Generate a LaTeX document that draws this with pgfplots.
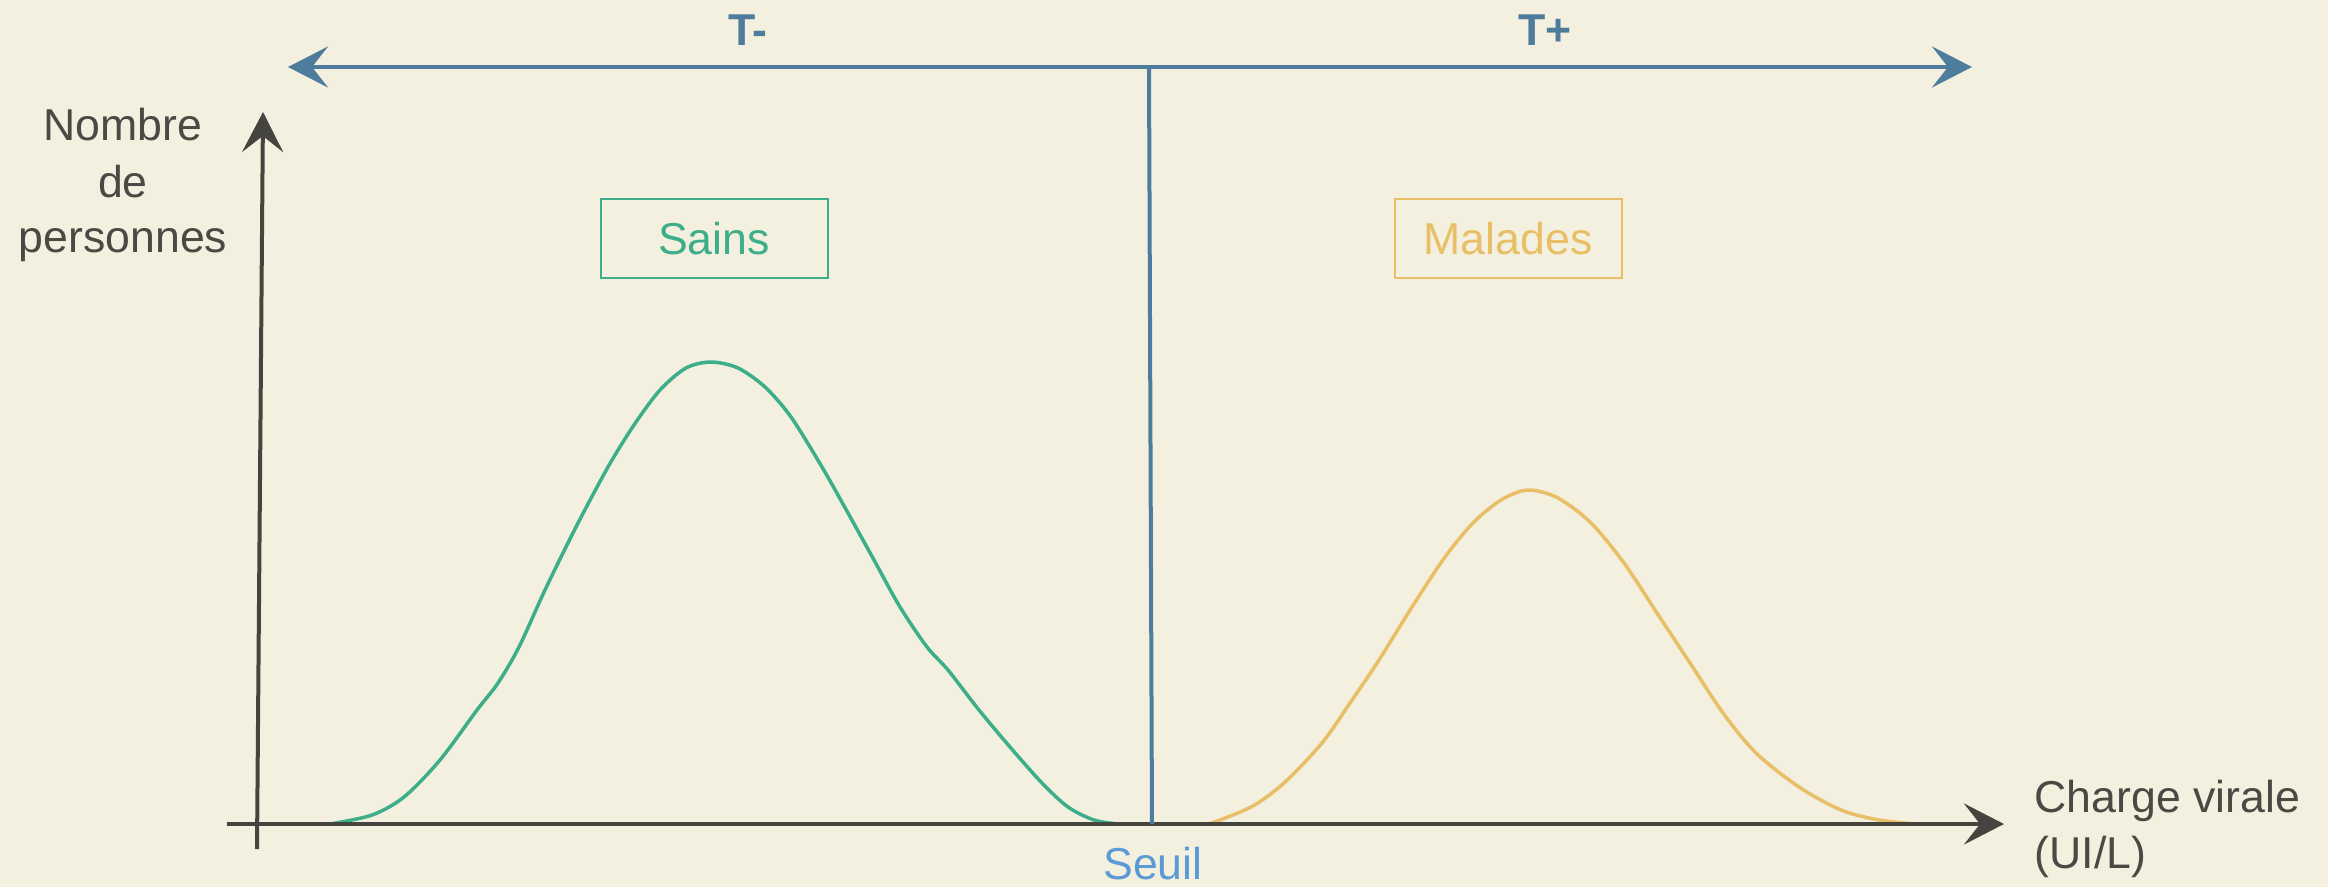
\documentclass[border=0pt]{standalone}
\usepackage{pgfplots}
\pgfplotsset{compat=1.18}
\usepackage{fontspec}
\setmainfont{Liberation Sans}
\usetikzlibrary{arrows.meta}

\definecolor{fond}{HTML}{F4F0E0}
\definecolor{axe}{HTML}{45443F}
\definecolor{texte}{HTML}{4A4944}
\definecolor{bleu}{HTML}{4E7C9C}
\definecolor{seuil}{HTML}{5B9BD5}
\definecolor{vert}{HTML}{3DAE8A}
\definecolor{jaune}{HTML}{E8BF66}

\tikzset{
  pointe/.tip={Stealth[length=4mm, width=4.1mm, inset=1.6mm]},
  etiq/.style={font=\fontsize{12.7}{15.9}\selectfont, inner sep=0pt},
}

\begin{document}
\begin{tikzpicture}
\begin{axis}[
  scale only axis,
  width=23.28cm, height=8.87cm,
  xmin=0, xmax=2328, ymin=-63, ymax=824,
  axis lines=none, ticks=none,
  clip=false,
]
% background
\fill[fond] (axis cs:0,-63) rectangle (axis cs:2328,824);
\coordinate (bl) at (axis cs:0,-63);
\coordinate (tr) at (axis cs:2328,824);

% personnes saines
\addplot[vert, line width=0.35mm, smooth] coordinates {
  (330,0) (372,9) (404,27) (440,64) (477,114) (498,141) (519,177)
  (545,234) (576,297) (608,357) (634,399) (660,434) (686,456)
  (711,462) (738,456) (765,437) (791,407) (822,357) (848,311)
  (874,264) (900,217) (927,177) (948,154) (979,114) (1010,77)
  (1042,41) (1068,17) (1094,4) (1118,0)
};

% personnes malades
\addplot[jaune, line width=0.35mm, smooth] coordinates {
  (1209,0) (1251,17) (1284,41) (1322,81) (1350,121) (1379,164)
  (1412,217) (1445,267) (1473,301) (1501,324) (1528,334) (1558,326)
  (1591,301) (1624,261) (1657,211) (1690,161) (1723,111) (1756,71)
  (1799,37) (1841,14) (1879,4) (1917,0)
};

% axes
\draw[axe, line width=0.4mm, -pointe] (axis cs:227,0) -- (axis cs:2004,0);
\draw[axe, line width=0.4mm, -pointe] (axis cs:257,-25) -- (axis cs:263,712);

% seuil et axe du test
\draw[bleu, line width=0.4mm] (axis cs:1149,757) -- (axis cs:1152,0);
\draw[bleu, line width=0.4mm, pointe-pointe] (axis cs:288,757) -- (axis cs:1972,757);

\node[etiq, bleu, font=\fontsize{12.7}{15.9}\selectfont\bfseries] at (axis cs:748,794) {T-};
\node[etiq, bleu, font=\fontsize{12.7}{15.9}\selectfont\bfseries] at (axis cs:1545,794) {T+};

% étiquettes des groupes
\draw[vert, line width=0.2mm] (axis cs:601,546) rectangle (axis cs:828,625);
\node[etiq, vert] at (axis cs:714,585) {Sains};
\draw[jaune, line width=0.2mm] (axis cs:1395,546) rectangle (axis cs:1622,625);
\node[etiq, jaune] at (axis cs:1508,585) {Malades};

\node[etiq, seuil, anchor=base] at (axis cs:1153,-55) {Seuil};

% titres des axes
\node[etiq, texte, anchor=base] at (axis cs:123,684) {Nombre};
\node[etiq, texte, anchor=base] at (axis cs:123,627) {de};
\node[etiq, texte, anchor=base] at (axis cs:123,572) {personnes};
\node[etiq, texte, anchor=base west] at (axis cs:2034,12) {Charge virale};
\node[etiq, texte, anchor=base west] at (axis cs:2034,-44) {(UI/L)};
\end{axis}
\pgfresetboundingbox
\path (bl) rectangle (tr);
\end{tikzpicture}
\end{document}
